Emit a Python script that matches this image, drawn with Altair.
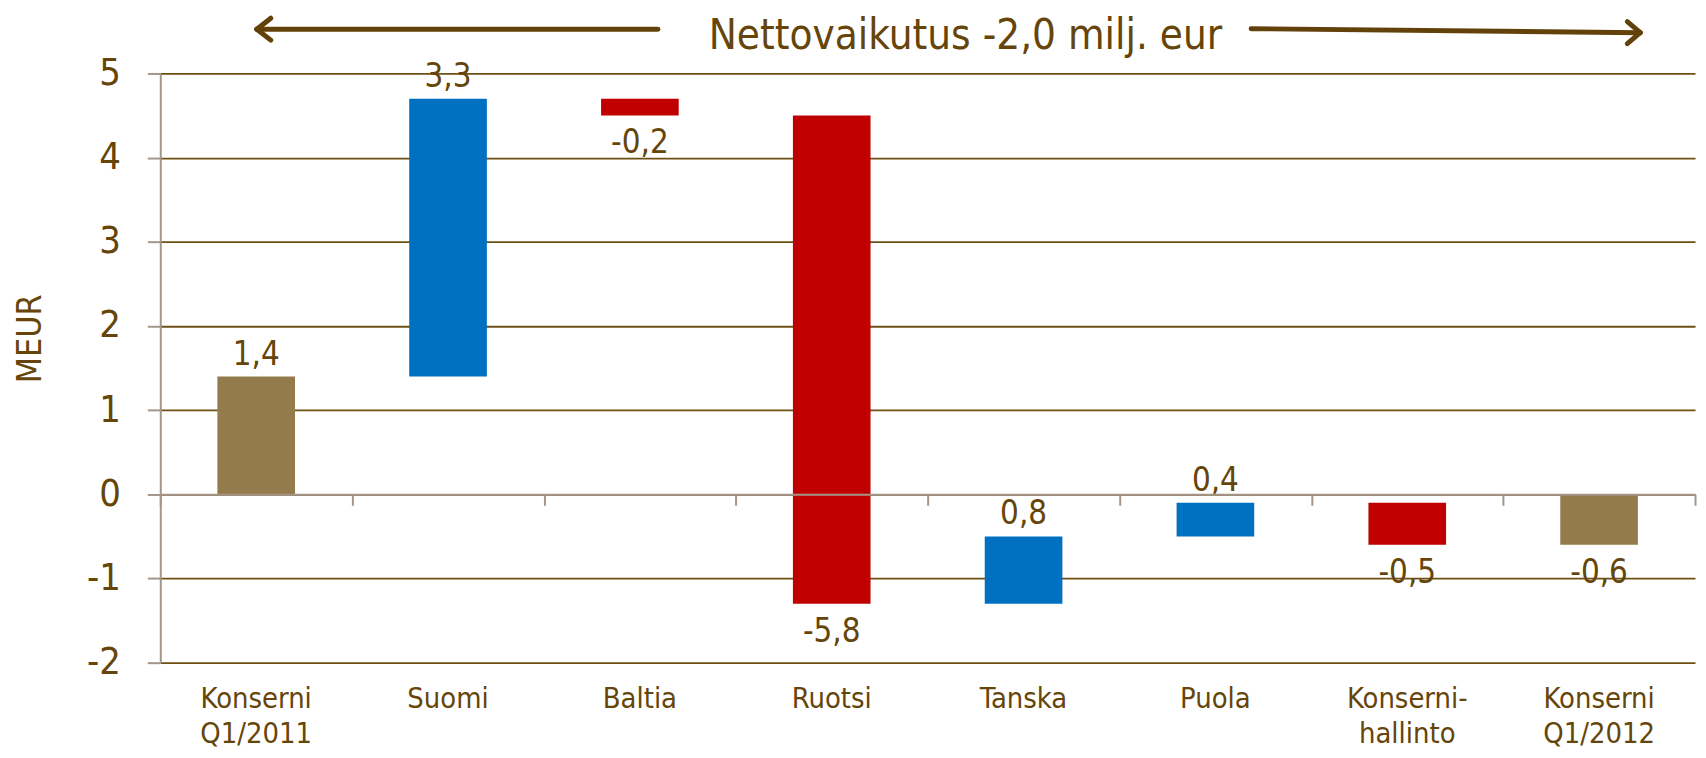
import altair as alt
import pandas as pd

categories = ["Konserni\nQ1/2011", "Suomi", "Baltia", "Ruotsi", "Tanska", "Puola",
              "Konserni-\nhallinto", "Konserni\nQ1/2012"]
changes = [1.4, 3.3, -0.2, -5.8, 0.8, 0.4, -0.5, -0.6]
kinds = ["total", "delta", "delta", "delta", "delta", "delta", "delta", "total"]
y_ticks = [-2, -1, 0, 1, 2, 3, 4, 5]
title_text = "Nettovaikutus -2,0 milj. eur"

rows = []
running = 0.0
for c, v, k in zip(categories, changes, kinds):
    if k == "total":
        start, end = 0.0, v
    else:
        start, end = running, running + v
    running = round(end, 2)
    start, end = round(start, 2), round(end, 2)
    key = "total" if k == "total" else ("up" if v > 0 else "down")
    rows.append(dict(cat=c, lo=min(start, end), hi=max(start, end), kind=key,
                     label=f"{v:.1f}".replace(".", ","), above=bool(v > 0)))
df = pd.DataFrame(rows)

FONT = "'Liberation Sans Narrow', 'DejaVu Sans Condensed', 'Roboto Condensed', sans-serif"
TXT = "#654509"
GRID = "#6E5014"
GRAY = "#A39689"

W, H = 1542, 592
zero_px = H * 5 / 7

xscale = alt.Scale(paddingInner=0, paddingOuter=0)
yscale = alt.Scale(domain=[-2, 5], nice=False)

base = alt.Chart(df)

bars = base.mark_bar(size=78).encode(
    x=alt.X("cat:N", sort=categories, scale=xscale,
            axis=alt.Axis(orient="bottom", title=None, ticks=False, domain=False,
                          labelAngle=0, labelFont=FONT, labelFontSize=29,
                          labelColor=TXT, labelPadding=22, labelLineHeight=35,
                          labelExpr="split(datum.value, '\\n')")),
    y=alt.Y("lo:Q", scale=yscale,
            axis=alt.Axis(values=y_ticks, labelExpr="'' + datum.value", grid=True,
                          gridColor=GRID, gridWidth=1.8, domainColor=GRAY,
                          domainWidth=2, tickColor=GRAY, tickWidth=2, tickSize=13,
                          labelFont=FONT, labelFontSize=38, labelColor=TXT,
                          labelPadding=27, title="MEUR", titleFont=FONT,
                          titleFontSize=34, titleFontWeight="normal",
                          titleColor=TXT, titleX=-120, titleY=266,
                          titleBaseline="alphabetic")),
    y2="hi:Q",
    color=alt.Color("kind:N", legend=None,
                    scale=alt.Scale(domain=["total", "up", "down"],
                                    range=["#937B4C", "#0070C0", "#C00000"])),
)

labels_up = base.transform_filter("datum.above").mark_text(
    font=FONT, fontSize=33, color=TXT, baseline="alphabetic", dy=-12
).encode(
    x=alt.X("cat:N", sort=categories, scale=xscale,
            axis=alt.Axis(orient="bottom", offset=-(H - zero_px), labels=False,
                          title=None, domainColor=GRAY, domainWidth=2,
                          tickColor=GRAY, tickWidth=2, tickSize=11,
                          tickBand="extent", zindex=1)),
    y=alt.Y("hi:Q", scale=yscale),
    text="label:N",
)

labels_down = base.transform_filter("!datum.above").mark_text(
    font=FONT, fontSize=33, color=TXT, baseline="top", dy=12
).encode(
    x=alt.X("cat:N", sort=categories, scale=xscale, axis=None),
    y=alt.Y("lo:Q", scale=yscale),
    text="label:N",
)

one = alt.Data(values=[{}])
title = alt.Chart(one).mark_text(
    text=title_text, font=FONT, fontSize=42, color=TXT, baseline="alphabetic", align="center"
).encode(x=alt.value(809), y=alt.value(-25))

ARW = "#62420A"
def seg(x1, y1, x2, y2):
    return alt.Chart(one).mark_rule(color=ARW, strokeWidth=5, strokeCap="round").encode(
        x=alt.value(x1), y=alt.value(y1), x2=alt.value(x2), y2=alt.value(y2))

arrows = [
    seg(97, -44.5, 500, -44.5),
    seg(97, -44.5, 111, -55.5),
    seg(97, -44.5, 111, -33.5),
    seg(1096, -45, 1487, -41),
    seg(1487, -41, 1474, -52),
    seg(1487, -41, 1474, -30),
]

chart = alt.layer(bars, labels_up, labels_down, title, *arrows).resolve_axis(
    x="independent"
).properties(
    width=W, height=H,
    autosize=alt.AutoSizeParams(type="none"),
    padding={"left": 153, "top": 64, "right": 3, "bottom": 92},
    background="white",
).configure_view(stroke=None)

chart.save("out.html", embed_options={"renderer": "svg", "actions": False})
